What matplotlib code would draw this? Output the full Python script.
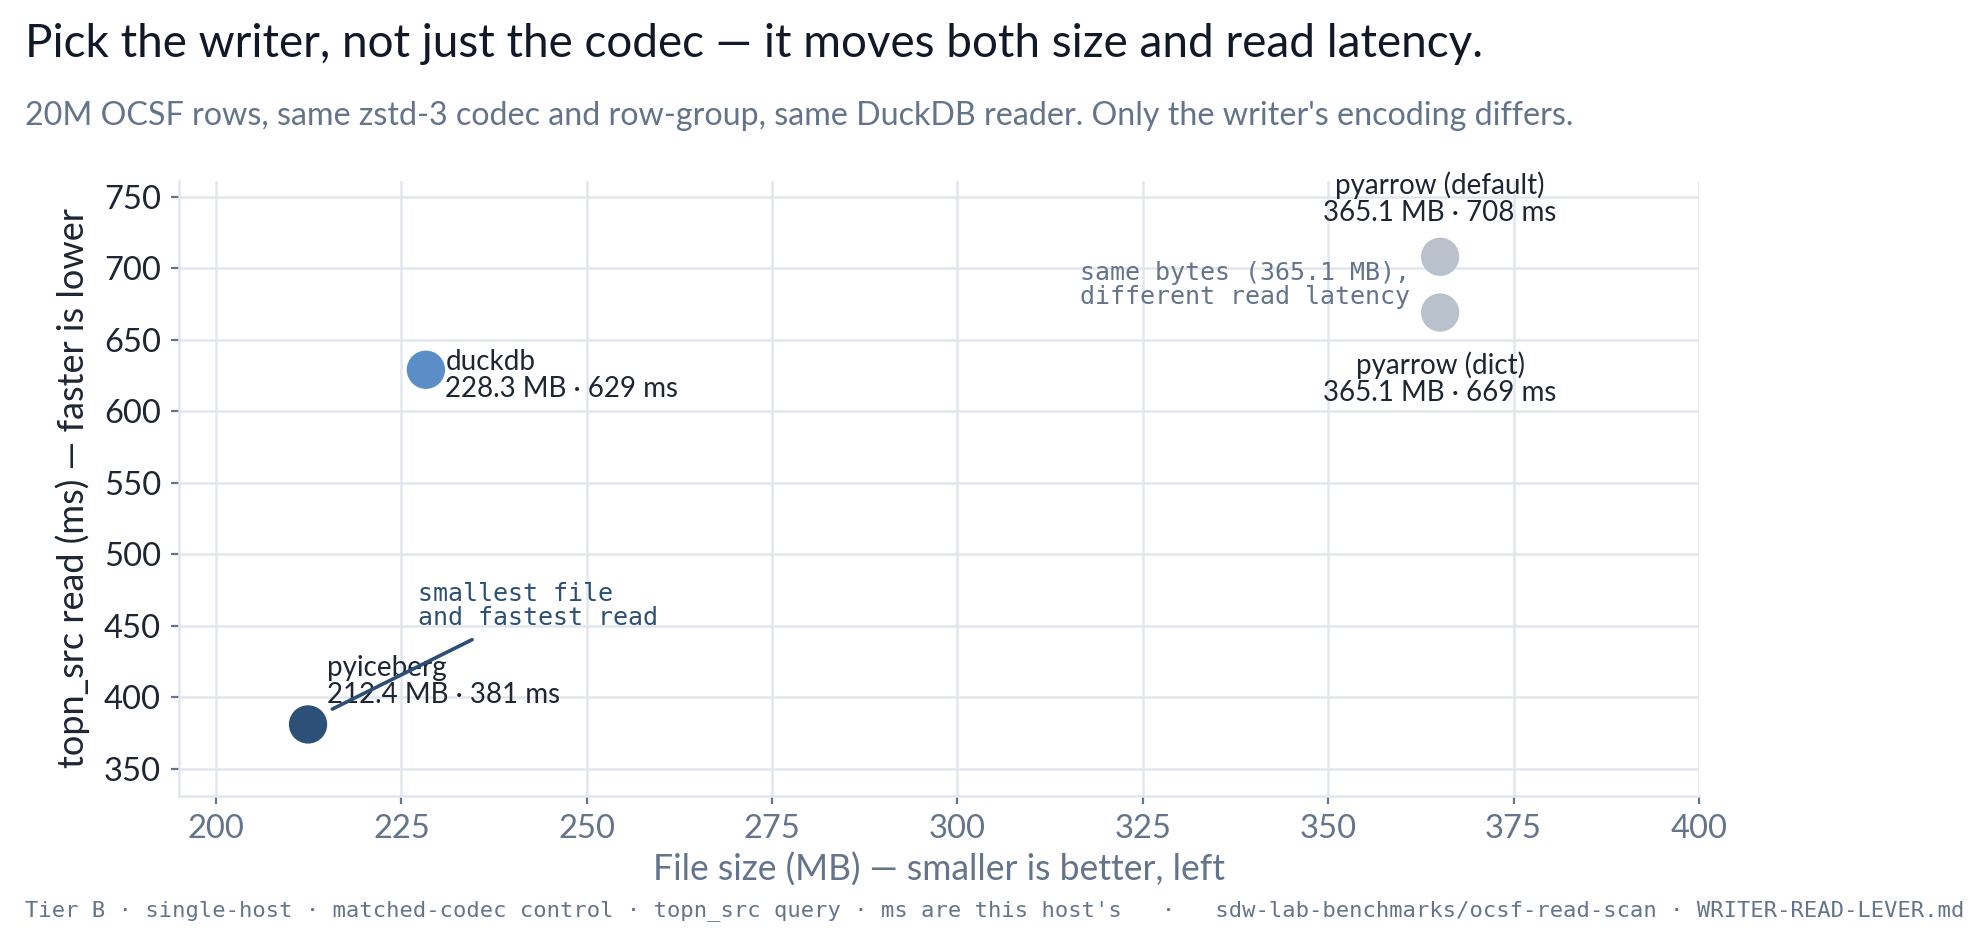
import matplotlib
matplotlib.use("Agg")
import matplotlib.pyplot as plt

# writer benchmark: file size vs topn_src read latency
writers = ["pyiceberg", "duckdb", "pyarrow (default)", "pyarrow (dict)"]
size_mb = [212.4, 228.3, 365.1, 365.1]
read_ms = [381, 629, 708, 669]
point_colors = ["#2c5077", "#5b8dc6", "#b9c1cd", "#b9c1cd"]

x_ticks = [200, 225, 250, 275, 300, 325, 350, 375, 400]
y_ticks = [350, 400, 450, 500, 550, 600, 650, 700, 750]

DARK = "#1e2633"
GREY = "#64748b"
NAVY = "#2c4f75"
GRID = "#e2e6ec"

plt.rcParams["font.family"] = ["Lato", "DejaVu Sans"]
MONO = ["DejaVu Sans Mono"]

fig = plt.figure(figsize=(9.935, 4.735), dpi=200)
ax = fig.add_axes([0.0901, 0.1595, 0.7649, 0.6494])

ax.scatter(size_mb, read_ms, s=190, c=point_colors, linewidths=0, zorder=3)

# point labels
label_pos = {
    "pyiceberg": ((7, 6), "left", "bottom"),
    "duckdb": ((7, -2), "left", "center"),
    "pyarrow (default)": ((0, 11), "center", "bottom"),
    "pyarrow (dict)": ((0, -14), "center", "top"),
}
for name, x, y in zip(writers, size_mb, read_ms):
    off, ha, va = label_pos[name]
    ax.annotate(f"{name}\n{x:.1f} MB · {y} ms", xy=(x, y), xytext=off,
                textcoords="offset points", ha=ha, va=va, fontsize=10,
                color=DARK, linespacing=1.05, zorder=4)

# callouts
ax.annotate("", xy=(215.0, 390), xytext=(235.2, 442),
            arrowprops=dict(arrowstyle="-", color=NAVY, lw=1.3), zorder=4)
ax.text(227.3, 447, "smallest file\nand fastest read", fontsize=9,
        family=MONO, color=NAVY, ha="left", va="bottom", linespacing=1.0)

ax.annotate("same bytes (365.1 MB),\ndifferent read latency",
            xy=(size_mb[2], (read_ms[2] + read_ms[3]) / 2), xytext=(-11, 0),
            textcoords="offset points", ha="right", va="center", fontsize=9,
            family=MONO, color=GREY, linespacing=1.0)

ax.set_xlim(195, 400)
ax.set_ylim(331, 761)
ax.set_xticks(x_ticks)
ax.set_yticks(y_ticks)
ax.grid(True, color=GRID, lw=0.9)
ax.set_axisbelow(True)
for s in ["top", "right"]:
    ax.spines[s].set_visible(False)
for s in ["left", "bottom"]:
    ax.spines[s].set_color(GRID)
    ax.spines[s].set_linewidth(0.9)
ax.tick_params(axis="both", length=3, width=0.8, color=GREY, labelsize=11.8)
ax.tick_params(axis="x", labelcolor=GREY)
ax.tick_params(axis="y", labelcolor=DARK)

ax.set_xlabel("File size (MB) — smaller is better, left", fontsize=12.8,
              color=GREY, labelpad=3)
ax.set_ylabel("topn_src read (ms) — faster is lower", fontsize=13,
              color=DARK, labelpad=5)

fig.text(0.0126, 0.94, "Pick the writer, not just the codec — it moves both size and read latency.",
         fontsize=16.5, color="#111827", ha="left", va="baseline")
fig.text(0.0126, 0.868, "20M OCSF rows, same zstd-3 codec and row-group, same DuckDB reader. Only the writer's encoding differs.",
         fontsize=11.6, color=GREY, ha="left", va="baseline")
fig.text(0.0126, 0.038,
         "Tier B · single-host · matched-codec control · topn_src query · ms are this host's"
         "   ·   sdw-lab-benchmarks/ocsf-read-scan · WRITER-READ-LEVER.md",
         fontsize=7.98, family=MONO, color=GREY, ha="left", va="center")

fig.savefig("out.png", dpi=200)
